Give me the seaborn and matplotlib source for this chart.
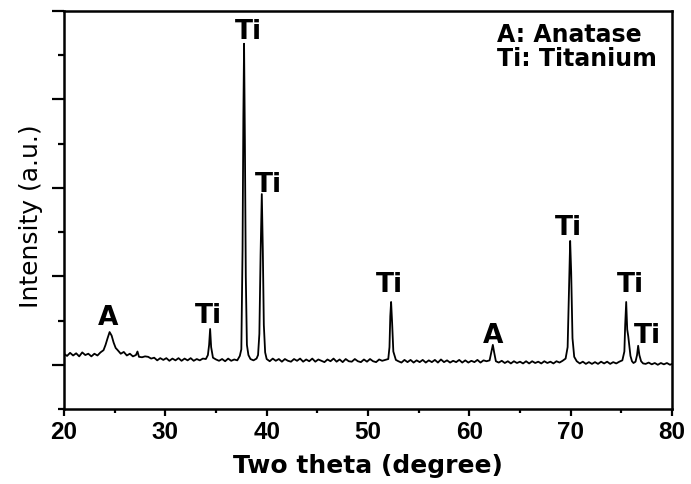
import matplotlib
matplotlib.use("Agg")
import matplotlib.pyplot as plt
import seaborn as sns

# ---------------- data ----------------
two_theta = [
    # 20.0 - 23.9
    20.0, 20.3, 20.6, 20.9, 21.2, 21.5, 21.8, 22.1, 22.4, 22.7,
    23.0, 23.3, 23.6, 23.9,
    # broad anatase hump + small spike
    24.1, 24.3, 24.5, 24.7, 24.9, 25.1, 25.3, 25.6, 25.9, 26.2,
    26.5, 26.8, 27.1, 27.25, 27.4, 27.7, 28.0,
    # 28.3 - 33.7
    28.3, 28.6, 28.9, 29.2, 29.5, 29.8, 30.1, 30.4, 30.7, 31.0,
    31.3, 31.6, 31.9, 32.2, 32.5, 32.8, 33.1, 33.4, 33.7,
    # Ti ~34.4
    34.0, 34.2, 34.32, 34.42, 34.52, 34.7, 35.0,
    # 35.3 - 37.1
    35.3, 35.6, 35.9, 36.2, 36.5, 36.8, 37.1,
    # main Ti peak ~37.8
    37.35, 37.5, 37.62, 37.7, 37.77, 37.85, 37.94, 38.05, 38.2,
    # between
    38.4, 38.7, 39.0, 39.15,
    # Ti ~39.5
    39.28, 39.4, 39.52, 39.62, 39.72, 39.85, 40.0,
    # 40.3 - 51.7
    40.3, 40.6, 40.9, 41.2, 41.5, 41.8, 42.1, 42.4, 42.7, 43.0,
    43.3, 43.6, 43.9, 44.2, 44.5, 44.8, 45.1, 45.4, 45.7, 46.0,
    46.3, 46.6, 46.9, 47.2, 47.5, 47.8, 48.1, 48.4, 48.7, 49.0,
    49.3, 49.6, 49.9, 50.2, 50.5, 50.8, 51.1, 51.4, 51.7,
    # Ti ~52.3
    52.0, 52.12, 52.2, 52.28, 52.38, 52.5, 52.75,
    # 53.0 - 61.7
    53.0, 53.3, 53.6, 53.9, 54.2, 54.5, 54.8, 55.1, 55.4, 55.7,
    56.0, 56.3, 56.6, 56.9, 57.2, 57.5, 57.8, 58.1, 58.4, 58.7,
    59.0, 59.3, 59.6, 59.9, 60.2, 60.5, 60.8, 61.1, 61.4, 61.7,
    # anatase ~62.3
    62.0, 62.18, 62.32, 62.45, 62.62,
    # 62.9 - 69.2
    62.9, 63.2, 63.5, 63.8, 64.1, 64.4, 64.7, 65.0, 65.3, 65.6,
    65.9, 66.2, 66.5, 66.8, 67.1, 67.4, 67.7, 68.0, 68.3, 68.6,
    68.9, 69.2,
    # Ti ~70.0
    69.5, 69.7, 69.82, 69.95, 70.05, 70.18, 70.35, 70.6,
    # 70.9 - 75.1
    70.9, 71.2, 71.5, 71.8, 72.1, 72.4, 72.7, 73.0, 73.3, 73.6,
    73.9, 74.2, 74.5, 74.8, 75.1,
    # Ti ~75.5 with shoulder
    75.3, 75.38, 75.48, 75.58, 75.68, 75.78, 75.9, 76.05, 76.2,
    # Ti ~76.7
    76.4, 76.55, 76.66, 76.78, 76.95, 77.15,
    # 77.4 - 80
    77.4, 77.7, 78.0, 78.3, 78.6, 78.9, 79.2, 79.5, 79.8, 80.0,
]

intensity = [
    1.25, 1.20, 1.27, 1.21, 1.26, 1.19, 1.28, 1.22, 1.25, 1.19,
    1.25, 1.21, 1.28, 1.33,
    1.45, 1.60, 1.74, 1.66, 1.50, 1.38, 1.33, 1.25, 1.29, 1.21,
    1.25, 1.19, 1.22, 1.30, 1.18, 1.17, 1.19,
    1.18, 1.14, 1.16, 1.10, 1.15, 1.11, 1.15, 1.09, 1.14, 1.10,
    1.15, 1.09, 1.14, 1.10, 1.15, 1.09, 1.13, 1.10, 1.14,
    1.13, 1.22, 1.45, 1.81, 1.40, 1.16, 1.12,
    1.09, 1.13, 1.08, 1.14, 1.09, 1.12, 1.10,
    1.20, 1.35, 3.60, 6.60, 8.26, 6.10, 3.00, 1.45, 1.22,
    1.13, 1.10, 1.14, 1.22,
    1.70, 3.50, 4.86, 3.60, 1.90, 1.28, 1.13,
    1.08, 1.14, 1.09, 1.13, 1.07, 1.13, 1.09, 1.07, 1.13, 1.09,
    1.14, 1.07, 1.12, 1.08, 1.14, 1.07, 1.12, 1.09, 1.06, 1.12,
    1.08, 1.14, 1.07, 1.12, 1.06, 1.13, 1.08, 1.07, 1.13, 1.08,
    1.06, 1.12, 1.07, 1.13, 1.08, 1.06, 1.12, 1.09, 1.11,
    1.13, 1.40, 2.10, 2.42, 1.95, 1.30, 1.11,
    1.08, 1.05, 1.11, 1.06, 1.11, 1.05, 1.10, 1.06, 1.11, 1.05,
    1.10, 1.06, 1.11, 1.05, 1.12, 1.06, 1.10, 1.05, 1.09, 1.06,
    1.11, 1.05, 1.10, 1.05, 1.09, 1.06, 1.11, 1.05, 1.10, 1.08,
    1.10, 1.30, 1.45, 1.28, 1.08,
    1.05, 1.09, 1.04, 1.08, 1.03, 1.08, 1.04, 1.07, 1.03, 1.08,
    1.03, 1.08, 1.04, 1.07, 1.03, 1.08, 1.04, 1.07, 1.03, 1.08,
    1.05, 1.09,
    1.14, 1.40, 2.60, 3.80, 3.10, 1.60, 1.18, 1.08,
    1.03, 1.07, 1.02, 1.06, 1.02, 1.06, 1.02, 1.07, 1.03, 1.07,
    1.02, 1.06, 1.03, 1.07, 1.10,
    1.30, 1.90, 2.42, 1.80, 1.65, 1.45, 1.20, 1.08, 1.04,
    1.07, 1.22, 1.43, 1.22, 1.08, 1.03,
    1.02, 1.05, 1.01, 1.04, 1.00, 1.04, 1.01, 1.04, 1.00, 1.02,
]

peak_labels = ["A", "Ti", "Ti", "Ti", "Ti", "A", "Ti", "Ti", "Ti"]
label_x = [24.34, 34.21, 38.16, 40.19, 52.08, 62.30, 69.75, 75.87, 77.55]
label_y = [1.92, 1.97, 8.39, 4.93, 2.67, 1.52, 3.96, 2.67, 1.52]

legend_lines = ["A: Anatase", "Ti: Titanium"]
legend_x = 62.74
legend_y = [8.33, 7.77]

x_ticks = [20, 30, 40, 50, 60, 70, 80]
x_tick_labels = ["20", "30", "40", "50", "60", "70", "80"]
x_minor = [25, 35, 45, 55, 65, 75]
y_major = [1, 3, 5, 7, 9]
y_minor = [0, 2, 4, 6, 8]

# ---------------- plotting ----------------
sns.set_style("ticks")
plt.rcParams["font.family"] = ["DejaVu Sans"]

fig = plt.figure(figsize=(6.91, 4.85), dpi=100)
ax = fig.add_axes([64 / 691, 1 - 410 / 485, 608 / 691, 398 / 485])

sns.lineplot(x=two_theta, y=intensity, ax=ax, color="black",
             linewidth=1.3, estimator=None, sort=False)

ax.set_xlim(20, 80)
ax.set_ylim(0, 9)

ax.set_xticks(x_ticks)
ax.set_xticklabels(x_tick_labels, fontfamily="Liberation Sans",
                   fontweight="bold", fontsize=17.5)
ax.set_xticks(x_minor, minor=True)
ax.set_yticks(y_major)
ax.set_yticks(y_minor, minor=True)
ax.tick_params(axis="y", which="both", labelleft=False)

ax.tick_params(axis="x", which="major", direction="out", length=5,
               width=1.6, pad=3, colors="black")
ax.tick_params(axis="x", which="minor", direction="out", length=3,
               width=1.6, colors="black")
ax.tick_params(axis="y", which="major", direction="out", length=8.5,
               width=1.6, colors="black")
ax.tick_params(axis="y", which="minor", direction="out", length=4.5,
               width=1.6, colors="black")

for sp in ax.spines.values():
    sp.set_visible(True)
    sp.set_linewidth(1.8)
    sp.set_color("black")

ax.set_xlabel("Two theta (degree)", fontsize=18, fontweight="bold",
              color="black")
ax.xaxis.label.set_va("baseline")
ax.xaxis.set_label_coords(0.5, (410 - 473) / 398)

ax.set_ylabel("Intensity (a.u.)", fontsize=18, color="black")
ax.yaxis.label.set_va("center")
ax.yaxis.set_label_coords((31 - 64) / 608, (410 - 216) / 398)

for lab, lx, ly in zip(peak_labels, label_x, label_y):
    ax.text(lx, ly, lab, fontsize=19, fontweight="bold", ha="center",
            va="baseline", color="black")

for line, ly in zip(legend_lines, legend_y):
    ax.text(legend_x, ly, line, fontsize=17, fontweight="bold", ha="left",
            va="baseline", color="black")

fig.savefig("out.png", dpi=100)
